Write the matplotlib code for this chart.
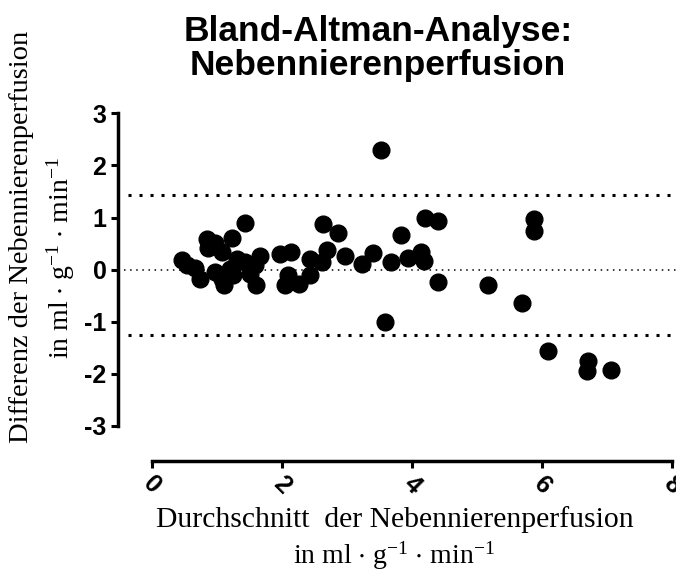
import matplotlib
matplotlib.use("Agg")
import matplotlib.pyplot as plt

# ----------------------------------------------
#   Bland-Altman: Nebennierenperfusion
# ----------------------------------------------

mean_perf = [0.46, 0.53, 0.66, 0.74, 0.84, 0.86, 0.97, 1.07, 0.97, 1.07,
             1.10, 1.20, 1.22, 1.24, 1.30, 1.42, 1.42, 1.50, 1.60, 1.66,
             1.58, 1.96, 2.04, 2.14, 2.09, 2.25, 2.43, 2.43, 2.63, 2.69,
             2.61, 2.86, 2.97, 3.22, 3.40, 3.52, 3.58, 3.67, 3.83, 3.93,
             4.13, 4.18, 4.20, 4.40, 4.40, 5.17, 5.69, 5.87, 5.87, 6.09,
             6.71, 6.68, 7.05]
diff_perf = [0.18, 0.08, 0.04, -0.18, 0.59, 0.42, 0.52, 0.33, -0.05, -0.18,
             -0.30, 0.01, 0.60, -0.10, 0.20, 0.89, 0.14, -0.08, -0.30, 0.27,
             0.08, 0.30, -0.30, 0.33, -0.10, -0.28, -0.10, 0.20, 0.87, 0.38,
             0.14, 0.71, 0.26, 0.11, 0.31, 2.30, -1.00, 0.14, 0.66, 0.22,
             0.33, 0.17, 1.00, 0.94, -0.23, -0.29, -0.64, 0.98, 0.75, -1.56,
             -1.75, -1.94, -1.92]

upper_loa = 1.43
lower_loa = -1.26
zero_line = 0.0

x_ticks = [0, 2, 4, 6, 8]
y_ticks = [-3, -2, -1, 0, 1, 2, 3]

plt.rcParams['mathtext.fontset'] = 'custom'
plt.rcParams['mathtext.rm'] = 'Liberation Serif'
plt.rcParams['mathtext.default'] = 'regular'
plt.rcParams['axes.unicode_minus'] = False

W, H = 676, 575
fig = plt.figure(figsize=(W / 100, H / 100), dpi=100)
ax = fig.add_axes([152.3 / W, (H - 426) / H, (672.3 - 152.3) / W, (426 - 113.3) / H])

ax.scatter(mean_perf, diff_perf, s=145, color='black', zorder=3, clip_on=False)

# limits of agreement + zero line
ax.plot([-0.37, 8.1], [upper_loa, upper_loa], color='black', lw=2.2,
        linestyle=(0, (1, 2.6)), dash_capstyle='butt', clip_on=False)
ax.plot([-0.37, 8.1], [lower_loa, lower_loa], color='black', lw=2.2,
        linestyle=(0, (1, 2.6)), dash_capstyle='butt', clip_on=False)
ax.plot([-0.44, 8.1], [zero_line, zero_line], color='black', lw=1.1,
        linestyle=(0, (1, 3)), clip_on=False)

ax.set_xlim(0, 8)
ax.set_ylim(-3, 3)
ax.set_xticks(x_ticks)
ax.set_yticks(y_ticks)

for s in ['top', 'right']:
    ax.spines[s].set_visible(False)
ax.spines['left'].set_position(('outward', 25))
ax.spines['bottom'].set_position(('outward', 25))
ax.spines['left'].set_linewidth(2.5)
ax.spines['bottom'].set_linewidth(2.5)
ax.spines['left'].set_bounds(-3, 3)
ax.spines['bottom'].set_bounds(0, 8)

ax.tick_params(axis='both', length=5, width=2.2, pad=3)
for lab in ax.get_yticklabels():
    lab.set_fontfamily('Liberation Sans')
    lab.set_fontweight('bold')
    lab.set_fontsize(18)
for lab in ax.get_xticklabels():
    lab.set_fontfamily('Liberation Sans')
    lab.set_fontweight('bold')
    lab.set_fontsize(18)
    lab.set_rotation(-45)
    lab.set_ha('center')
    lab.set_va('top')

# title
fig.text(378 / W, 1 - 31 / H, 'Bland-Altman-Analyse:', ha='center', va='center',
         fontfamily='Liberation Sans', fontweight='bold', fontsize=25.5)
fig.text(378 / W, 1 - 65 / H, 'Nebennierenperfusion', ha='center', va='center',
         fontfamily='Liberation Sans', fontweight='bold', fontsize=25.5)

# axis labels (serif)
unit = r'in ml $\cdot$ g$^{-1}$ $\cdot$ min$^{-1}$'
fig.text(22 / W, 1 - 237 / H, 'Differenz der Nebennierenperfusion', rotation=90,
         ha='center', va='center', fontfamily='Liberation Serif', fontsize=20.5)
fig.text(61 / W, 1 - 258 / H, unit, rotation=90,
         ha='center', va='center', fontfamily='Liberation Serif', fontsize=20)
fig.text(395 / W, 1 - 520 / H, 'Durchschnitt  der Nebennierenperfusion',
         ha='center', va='center', fontfamily='Liberation Serif', fontsize=21.3)
fig.text(394 / W, 1 - 556 / H, unit,
         ha='center', va='center', fontfamily='Liberation Serif', fontsize=20)

fig.savefig('out.png', dpi=100)
